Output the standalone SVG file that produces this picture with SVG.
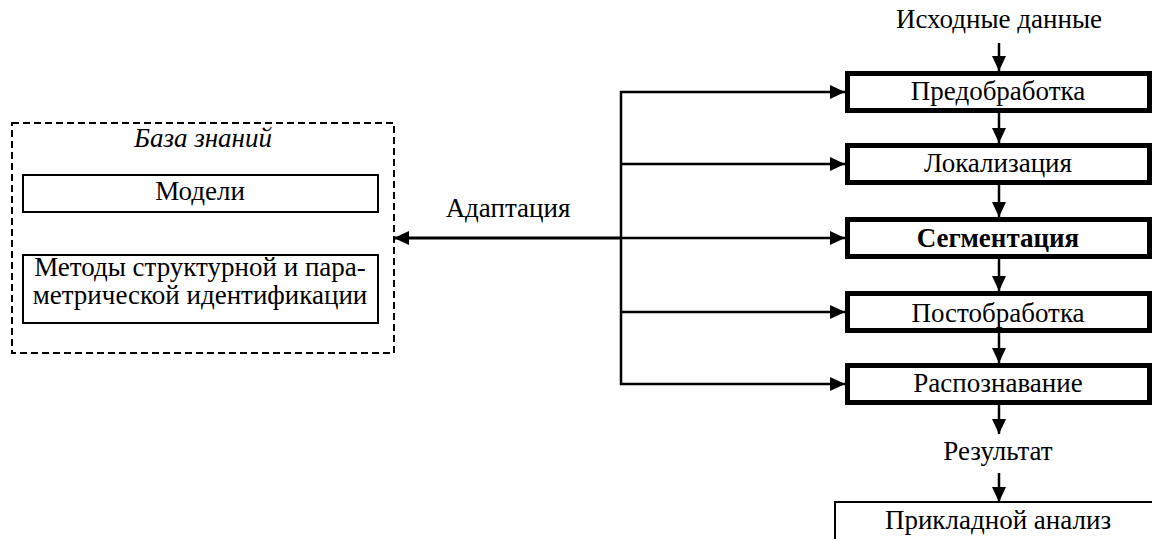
<svg xmlns="http://www.w3.org/2000/svg" width="1152" height="539" viewBox="0 0 1152 539">
<style>
text{font-family:"Liberation Serif","Times New Roman",serif;font-size:27px;fill:#000;text-anchor:middle}
.bold{stroke:#000;stroke-width:5;fill:#fff}
.thin{stroke:#000;stroke-width:2;fill:#fff}
.dash{stroke:#000;stroke-width:2;fill:none;stroke-dasharray:7 4}
.ln{stroke:#000;stroke-width:2.5;fill:none}
</style>
<defs>
<marker id="ah" markerUnits="userSpaceOnUse" markerWidth="16" markerHeight="14" refX="15" refY="7" orient="auto">
<path d="M0,0 L15,7 L0,14 Z" fill="#000"/>
</marker>
</defs>
<g id="connectors">
<line class="ln" x1="999" y1="43" x2="999" y2="71" marker-end="url(#ah)"/>
<line class="ln" x1="999" y1="113" x2="999" y2="143" marker-end="url(#ah)"/>
<line class="ln" x1="999" y1="185" x2="999" y2="217" marker-end="url(#ah)"/>
<line class="ln" x1="999" y1="259" x2="999" y2="291" marker-end="url(#ah)"/>
<line class="ln" x1="999" y1="333" x2="999" y2="363" marker-end="url(#ah)"/>
<line class="ln" x1="999" y1="405" x2="999" y2="434" marker-end="url(#ah)"/>
<line class="ln" x1="999" y1="473" x2="999" y2="502" marker-end="url(#ah)"/>
<line class="ln" x1="621" y1="91" x2="621" y2="385"/>
<line class="ln" x1="620" y1="92" x2="845" y2="92" marker-end="url(#ah)"/>
<line class="ln" x1="621" y1="164" x2="845" y2="164" marker-end="url(#ah)"/>
<line class="ln" x1="621" y1="238" x2="845" y2="238" marker-end="url(#ah)"/>
<line class="ln" x1="621" y1="312" x2="845" y2="312" marker-end="url(#ah)"/>
<line class="ln" x1="620" y1="384" x2="845" y2="384" marker-end="url(#ah)"/>
<line x1="621" y1="238" x2="394" y2="238" stroke="#000" stroke-width="3" marker-end="url(#ah)"/>
</g>
<g id="input"><text x="999" y="28">Исходные данные</text></g>
<g id="adapt"><text x="508" y="217">Адаптация</text></g>
<g id="predobrabotka"><rect class="bold" x="847.5" y="73.5" width="302" height="37"/><text x="998" y="100">Предобработка</text></g>
<g id="lokalizaciya"><rect class="bold" x="847.5" y="145.5" width="302" height="37"/><text x="998" y="172">Локализация</text></g>
<g id="segmentaciya"><rect class="bold" x="847.5" y="219.5" width="302" height="37"/><text x="998" y="246.5" font-weight="bold">Сегментация</text></g>
<g id="postobrabotka"><rect class="bold" x="847.5" y="293.5" width="302" height="37"/><text x="998" y="321.5">Постобработка</text></g>
<g id="raspoznavanie"><rect class="bold" x="847.5" y="365.5" width="302" height="37"/><text x="998" y="391.5">Распознавание</text></g>
<g id="result"><text x="998" y="460">Результат</text></g>
<g id="analiz"><rect class="thin" x="835" y="502" width="330" height="50"/><text x="998" y="529">Прикладной анализ</text></g>
<g id="baza">
<rect class="dash" x="12" y="123" width="382" height="230"/>
<text x="203" y="147" font-style="italic">База знаний</text>
</g>
<g id="modeli"><rect class="thin" x="23" y="175" width="355" height="37"/><text x="200" y="200">Модели</text></g>
<g id="metody"><rect class="thin" x="23" y="255" width="355" height="68"/><text x="200" y="276">Методы структурной и пара-</text><text x="200" y="304">метрической идентификации</text></g>
</svg>
